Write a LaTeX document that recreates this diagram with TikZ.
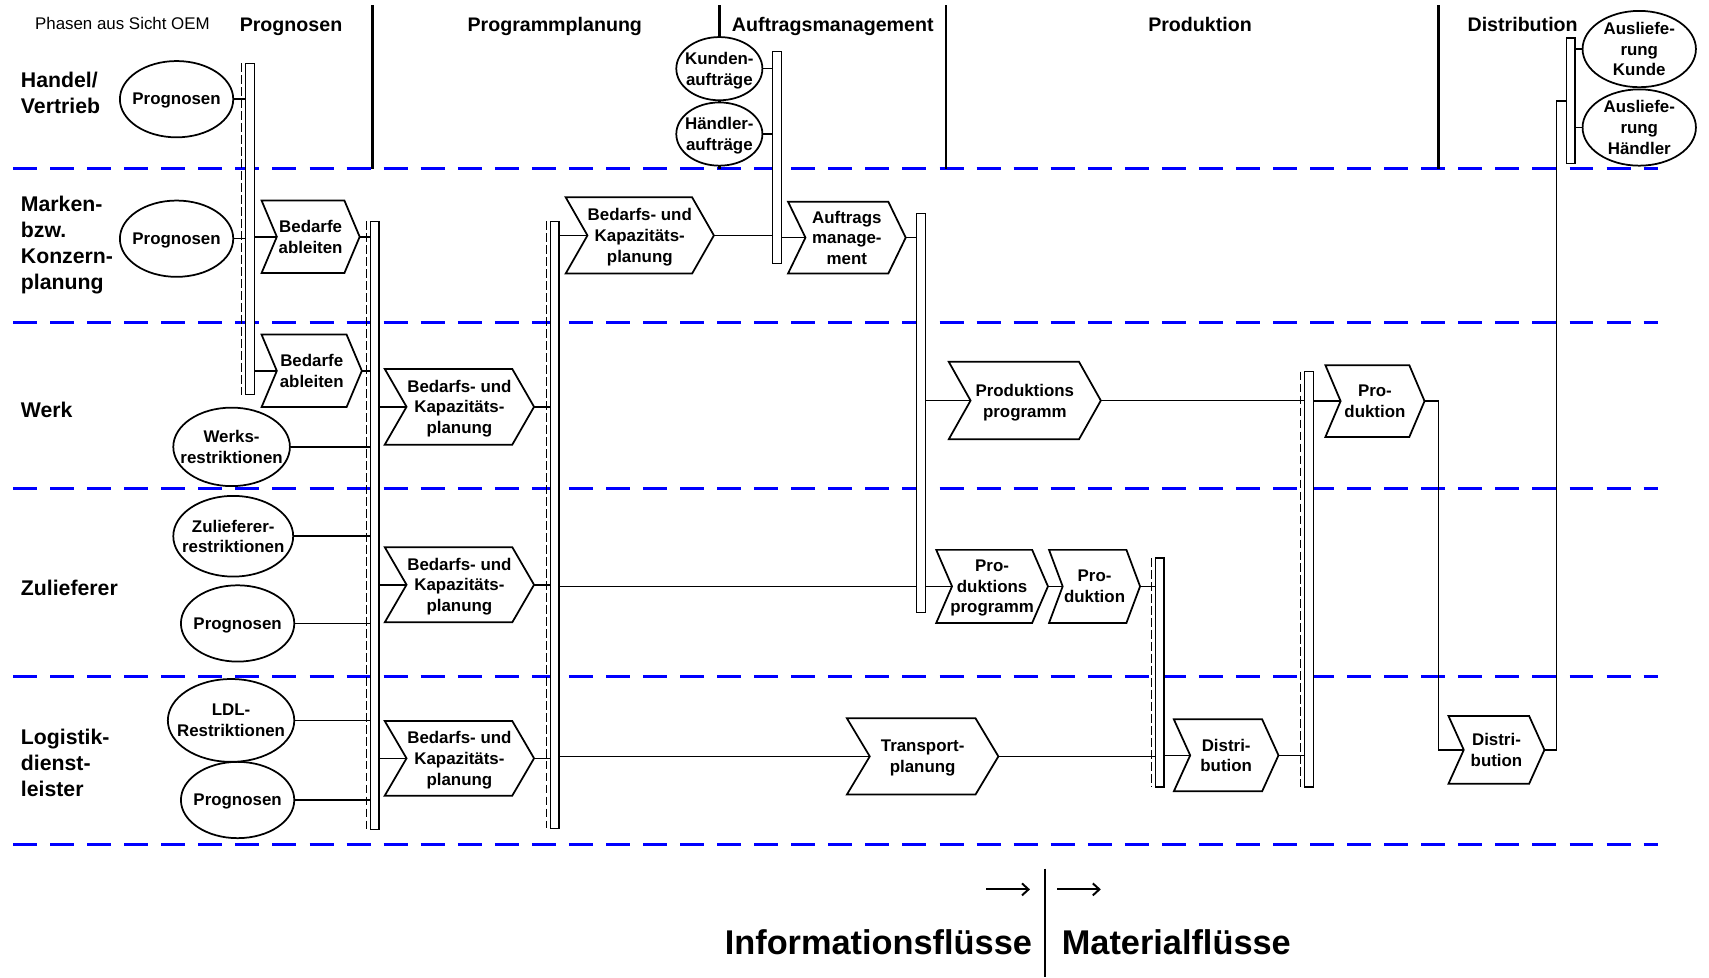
\documentclass[tikz,border=0pt]{standalone}
\usepackage{fontspec}
\setmainfont{Liberation Sans}
\usetikzlibrary{arrows.meta,shapes.geometric}

% Process step: flat top/bottom, notched left side, pointed right side
\makeatletter
\pgfkeys{/pgf/chevron depth/.initial=14pt}
\pgfdeclareshape{chevron}{%
  \inheritsavedanchors[from=rectangle]%
  \inheritanchorborder[from=rectangle]%
  \inheritanchor[from=rectangle]{center}%
  \inheritanchor[from=rectangle]{north}%
  \inheritanchor[from=rectangle]{south}%
  \inheritanchor[from=rectangle]{east}%
  \inheritanchor[from=rectangle]{west}%
  \inheritanchor[from=rectangle]{north east}%
  \inheritanchor[from=rectangle]{north west}%
  \inheritanchor[from=rectangle]{south east}%
  \inheritanchor[from=rectangle]{south west}%
  \savedmacro\chevdepth{%
    \pgfmathsetlengthmacro\chevdepth{\pgfkeysvalueof{/pgf/chevron depth}}}%
  \anchor{notch}{%
    \southwest \pgf@xa=\pgf@x \pgf@ya=\pgf@y
    \northeast \advance\pgf@ya by \pgf@y
    \pgf@x=\pgf@xa \advance\pgf@x by \chevdepth\relax
    \pgf@y=.5\pgf@ya}%
  \backgroundpath{%
    \southwest \edef\chev@xa{\the\pgf@x}\edef\chev@ya{\the\pgf@y}%
    \northeast \edef\chev@xb{\the\pgf@x}\edef\chev@yb{\the\pgf@y}%
    \pgf@xc=\chev@xb\relax \advance\pgf@xc by -\chevdepth\relax \edef\chev@xc{\the\pgf@xc}%
    \pgf@xc=\chev@xa\relax \advance\pgf@xc by \chevdepth\relax \edef\chev@xd{\the\pgf@xc}%
    \pgf@yc=\chev@ya\relax \advance\pgf@yc by \chev@yb\relax \pgf@yc=.5\pgf@yc \edef\chev@ym{\the\pgf@yc}%
    \pgfpathmoveto{\pgfqpoint{\chev@xa}{\chev@yb}}%
    \pgfpathlineto{\pgfqpoint{\chev@xc}{\chev@yb}}%
    \pgfpathlineto{\pgfqpoint{\chev@xb}{\chev@ym}}%
    \pgfpathlineto{\pgfqpoint{\chev@xc}{\chev@ya}}%
    \pgfpathlineto{\pgfqpoint{\chev@xa}{\chev@ya}}%
    \pgfpathlineto{\pgfqpoint{\chev@xd}{\chev@ym}}%
    \pgfpathclose}%
}
\makeatother

\tikzset{
  % a slightly negative depth sets each label block a little lower in its shape
  txt/.style={font=\fontsize{15.5}{19}\selectfont\bfseries, align=center, text depth=-2.5pt},
  % negative inner sep lets the minimum size alone fix the ellipse
  oval/.style={ellipse, draw, line width=1.6pt, fill=white, inner sep=-20pt, txt},
  chev/.style={chevron, draw, line width=1.6pt, inner sep=0pt, outer sep=0pt, txt, chevron depth=#1},
  bar/.style={rectangle, draw, line width=1.2pt, fill=white, inner sep=0pt, outer sep=0pt, minimum width=8pt},
  link/.style={line width=1.4pt},
  phase/.style={line width=2.5pt},
  lane/.style={blue, line width=2.8pt, dash pattern=on 22pt off 12pt},
  sync/.style={line width=1pt, dash pattern=on 8pt off 3pt},
  head/.style={font=\fontsize{18}{22}\selectfont\bfseries, inner sep=0pt, anchor=base},
  rowlabel/.style={font=\fontsize{19.5}{24}\selectfont\bfseries, align=left, anchor=west, inner sep=0pt},
  legend/.style={font=\fontsize{31.5}{36}\selectfont\bfseries, inner sep=0pt},
}

\begin{document}
\begin{tikzpicture}[x=1pt,y=-1pt]
\useasboundingbox (0,0) rectangle (1568,896.4);

% swim lanes
\foreach \yy in {155,296,448,621,775}
  \draw[lane] (12,\yy) -- (1521,\yy);

% phase separators
\foreach \xx in {342,660,868,1320}
  \draw[phase] (\xx,5) -- (\xx,155);

% headings
\node[anchor=base west, inner sep=0pt, font=\fontsize{15.5}{19}\selectfont] (phasen) at (32,27.5) {Phasen aus Sicht OEM};
\node[head] (h1) at (267,28.5) {Prognosen};
\node[head] (h2) at (509,28.5) {Programmplanung};
\node[head] (h3) at (764,28.5) {Auftragsmanagement};
\node[head] (h4) at (1101,28.5) {Produktion};
\node[head] (h5) at (1397,28.5) {Distribution};

% lane labels
\node[rowlabel] (r1) at (19,85) {Handel/\\Vertrieb};
\node[rowlabel] (r2) at (19,225) {Marken-\\bzw.\\Konzern-\\planung};
\node[rowlabel] (r3) at (19,376) {Werk};
\node[rowlabel] (r4) at (19,539) {Zulieferer};
\node[rowlabel] (r5) at (19,700) {Logistik-\\dienst-\\leister};

% synchronisation bars
\node[bar, minimum height=304pt] (b1) at (229.25,210) {};
\node[bar, minimum height=558pt] (b2) at (343.75,482) {};
\node[bar, minimum height=557pt] (b3) at (509,481.5) {};
\node[bar, minimum height=195pt] (b4) at (713,144.5) {};
\node[bar, minimum height=366pt] (b5) at (845,379) {};
\node[bar, minimum height=210pt] (b6) at (1064,617) {};
\node[bar, minimum height=381pt] (b7) at (1201,531.5) {};
\node[bar, minimum height=115pt] (b8) at (1441,92.5) {};
\foreach \b in {b1,b2,b3,b6,b7}
  \draw[sync] ([xshift=-3.5pt]\b.north west) -- ([xshift=-3.5pt]\b.south west);

% inputs
\node[oval, minimum width=104pt, minimum height=70pt] (e1) at (162,91) {Prognosen};
\node[oval, minimum width=104pt, minimum height=70pt] (e2) at (162,219) {Prognosen};
\node[oval, minimum width=107pt, minimum height=72pt] (e3) at (212.5,410) {Werks-\\restriktionen};
\node[oval, minimum width=110pt, minimum height=74pt] (e4) at (214,492) {Zulieferer-\\restriktionen};
\node[oval, minimum width=104pt, minimum height=70pt] (e5) at (218,572) {Prognosen};
\node[oval, minimum width=116pt, minimum height=76pt] (e6) at (212,661) {LDL-\\Restriktionen};
\node[oval, minimum width=104pt, minimum height=70pt] (e7) at (218,734) {Prognosen};
\node[oval, minimum width=79pt, minimum height=58pt] (e8) at (660,63) {Kunden-\\aufträge};
\node[oval, minimum width=79pt, minimum height=58pt] (e9) at (660,123) {Händler-\\aufträge};
\node[oval, minimum width=104pt, minimum height=70pt] (e10) at (1504,45) {Ausliefe-\\rung\\Kunde};
\node[oval, minimum width=104pt, minimum height=70pt] (e11) at (1504,117) {Ausliefe-\\rung\\Händler};

% process steps
\node[chev=14pt, minimum width=90pt, minimum height=66.5pt] (c1) at (285,217.25) {Bedarfe\\ableiten};
\node[chev=14pt, minimum width=92pt, minimum height=66.5pt] (c2) at (286,340.25) {Bedarfe\\ableiten};
\node[chev=20pt, minimum width=137pt, minimum height=69.5pt] (c3) at (421.5,373.25) {Bedarfs- und\\Kapazitäts-\\planung};
\node[chev=20pt, minimum width=137pt, minimum height=69pt] (c4) at (421.5,536.5) {Bedarfs- und\\Kapazitäts-\\planung};
\node[chev=20pt, minimum width=137pt, minimum height=68.5pt] (c5) at (421.5,695.75) {Bedarfs- und\\Kapazitäts-\\planung};
\node[chev=21pt, minimum width=139pt, minimum height=70pt] (c6) at (846.5,694) {Transport-\\planung};
\node[chev=15pt, minimum width=96pt, minimum height=66pt] (c7) at (1125,693) {Distri-\\bution};
\node[chev=20pt, minimum width=136pt, minimum height=70pt] (c8) at (587,216) {Bedarfs- und\\Kapazitäts-\\planung};
\node[chev=16pt, minimum width=108pt, minimum height=66pt] (c9) at (777,218) {Auftrags\\manage-\\ment};
\node[chev=20pt, minimum width=139.5pt, minimum height=71pt] (c10) at (940.25,367.5) {Produktions\\programm};
\node[chev=14pt, minimum width=91pt, minimum height=66pt] (c11) at (1261.5,368) {Pro-\\duktion};
\node[chev=14pt, minimum width=88pt, minimum height=62pt] (c12) at (1373,688) {Distri-\\bution};
\node[chev=14.5pt, minimum width=102.5pt, minimum height=67pt] (c13) at (910.25,538) {Pro-\\duktions\\programm};
\node[chev=12.5pt, minimum width=83.5pt, minimum height=67pt] (c14) at (1004.25,538) {Pro-\\duktion};

% flows
\foreach \e in {e1,e2}
  \draw[link] (\e.east) -- (\e.east -| b1.west);
\foreach \e in {e3,e4,e5,e6,e7}
  \draw[link] (\e.east) -- (\e.east -| b2.west);
\foreach \e in {e8,e9}
  \draw[link] (\e.east) -- (\e.east -| b4.west);
\foreach \e in {e10,e11}
  \draw[link] (\e.west -| b8.east) -- (\e.west);

\foreach \c in {c1,c2}{
  \draw[link] (b1.east |- \c.notch) -- (\c.notch);
  \draw[link] (\c.east) -- (\c.east -| b2.west);
}
\foreach \c in {c3,c4,c5}{
  \draw[link] (b2.east |- \c.notch) -- (\c.notch);
  \draw[link] (\c.east) -- (\c.east -| b3.west);
}
\draw[link] (b3.east |- c8.notch) -- (c8.notch);
\draw[link] (c8.east) -- (c8.east -| b4.west);
\draw[link] (b4.east |- c9.notch) -- (c9.notch);
\draw[link] (c9.east) -- (c9.east -| b5.west);
\draw[link] (b3.east |- c13.notch) -- (b5.west |- c13.notch);
\draw[link] (b5.east |- c10.notch) -- (c10.notch);
\draw[link] (c10.east) -- (c10.east -| b7.west);
\draw[link] (b5.east |- c13.notch) -- (c13.notch);
\draw[link] (c13.east) -- (c14.notch);
\draw[link] (c14.east) -- (c14.east -| b6.west);
\draw[link] (b3.east |- c6.notch) -- (c6.notch);
\draw[link] (c6.east) -- (c6.east -| b6.west);
\draw[link] (b6.east |- c7.notch) -- (c7.notch);
\draw[link] (c7.east) -- (c7.east -| b7.west);
\draw[link] (b7.east |- c11.notch) -- (c11.notch);
\draw[link] (c11.east) -- ++(13,0) |- (c12.notch);
\draw[link] (c12.east) -- ++(11,0) |- (b8.west);

% legend
\coordinate (sepTop) at (959,797);
\coordinate (sepBot) at (959,896.4);
\draw[line width=2.2pt] (sepTop) -- (sepBot);
\node[legend, anchor=base east] (info) at (947,876) {Informationsflüsse};
\node[legend, anchor=base west] (mat) at (974,876) {Materialflüsse};
\coordinate (ia) at (905,816);
\coordinate (ib) at (945,816);
\coordinate (ma) at (970,816);
\coordinate (mb) at (1010,816);
\draw[line width=1.8pt, -{Straight Barb[length=6pt,width=11pt,line width=1.8pt]}] (ia) -- (ib);
\draw[line width=1.8pt, -{Straight Barb[length=6pt,width=11pt,line width=1.8pt]}] (ma) -- (mb);
\end{tikzpicture}
\end{document}
